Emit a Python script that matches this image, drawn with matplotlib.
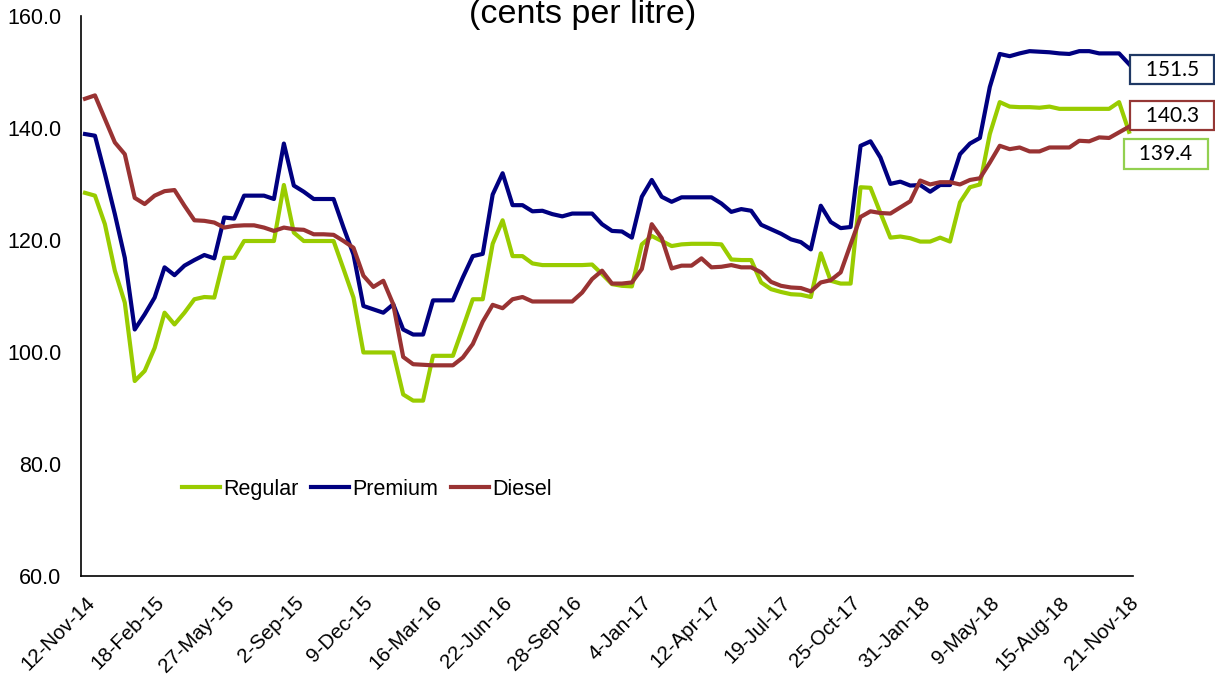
import numpy as np
import pandas as pd
import matplotlib
matplotlib.use('Agg')
import matplotlib.pyplot as plt

# ----------------------------------------
# data (cents per litre, every two weeks)
# ----------------------------------------
dates = pd.date_range('2014-11-12', periods=106, freq='14D')

regular = [128.5, 128.0, 122.9, 114.6, 108.9, 94.9, 96.7, 100.8, 107.1, 105.0,
           107.1, 109.5, 109.9, 109.8, 116.9, 116.9, 119.9, 119.9, 119.9, 119.9,
           129.9, 121.4, 119.9, 119.9, 119.9, 119.9, 114.9, 109.8, 100.0, 100.0,
           100.0, 100.0, 92.5, 91.4, 91.4, 99.4, 99.4, 99.4, 104.4, 109.5,
           109.5, 119.4, 123.6, 117.2, 117.2, 115.9, 115.6, 115.6, 115.6, 115.6,
           115.6, 115.7, 114.0, 112.2, 111.9, 111.8, 119.3, 120.8, 119.9, 119.0,
           119.3, 119.4, 119.4, 119.4, 119.3, 116.6, 116.5, 116.5, 112.5, 111.3,
           110.8, 110.4, 110.3, 109.9, 117.7, 112.8, 112.3, 112.3, 129.5, 129.4,
           124.9, 120.5, 120.7, 120.4, 119.8, 119.8, 120.5, 119.8, 126.8, 129.5,
           130.0, 139.0, 144.7, 143.9, 143.8, 143.8, 143.7, 143.9, 143.5, 143.5,
           143.5, 143.5, 143.5, 143.5, 144.7, 139.4]

premium = [139.0, 138.7, 131.9, 124.7, 116.9, 104.1, 106.8, 109.8, 115.2, 113.8,
           115.5, 116.5, 117.4, 116.8, 124.1, 123.9, 128.0, 128.0, 128.0, 127.4,
           137.3, 129.8, 128.7, 127.4, 127.4, 127.4, 122.3, 117.5, 108.3, 107.7,
           107.1, 108.6, 104.1, 103.2, 103.2, 109.3, 109.3, 109.3, 113.4, 117.2,
           117.6, 128.2, 132.0, 126.3, 126.3, 125.2, 125.3, 124.7, 124.3, 124.8,
           124.8, 124.8, 122.9, 121.7, 121.6, 120.5, 127.8, 130.8, 127.8, 126.9,
           127.7, 127.7, 127.7, 127.7, 126.6, 125.1, 125.6, 125.3, 122.8, 122.0,
           121.2, 120.2, 119.7, 118.4, 126.2, 123.3, 122.2, 122.4, 136.9, 137.7,
           134.8, 130.1, 130.5, 129.8, 129.9, 128.7, 129.9, 129.9, 135.4, 137.3,
           138.3, 147.4, 153.3, 152.9, 153.4, 153.8, 153.7, 153.6, 153.4, 153.3,
           153.8, 153.8, 153.4, 153.4, 153.4, 151.5]

diesel = [145.3, 145.9, 141.7, 137.5, 135.4, 127.6, 126.5, 128.0, 128.8, 129.0,
          126.2, 123.6, 123.5, 123.2, 122.3, 122.6, 122.7, 122.7, 122.3, 121.7,
          122.3, 122.0, 121.9, 121.1, 121.1, 121.0, 119.9, 118.7, 113.7, 111.7,
          112.8, 108.6, 99.2, 97.9, 97.8, 97.7, 97.7, 97.7, 99.1, 101.5,
          105.5, 108.5, 107.9, 109.5, 109.9, 109.1, 109.1, 109.1, 109.1, 109.1,
          110.7, 113.1, 114.6, 112.3, 112.3, 112.5, 114.9, 122.9, 120.4, 115.0,
          115.5, 115.5, 116.8, 115.2, 115.3, 115.6, 115.2, 115.2, 114.3, 112.6,
          111.9, 111.6, 111.5, 110.9, 112.5, 112.9, 114.3, 119.3, 124.2, 125.2,
          124.9, 124.8, 125.9, 127.0, 130.7, 130.0, 130.4, 130.4, 130.0, 130.8,
          131.1, 133.9, 136.9, 136.3, 136.6, 135.9, 135.9, 136.6, 136.6, 136.6,
          137.8, 137.7, 138.4, 138.3, 139.3, 140.3]

tick_labels = ['12-Nov-14', '18-Feb-15', '27-May-15', '2-Sep-15', '9-Dec-15',
               '16-Mar-16', '22-Jun-16', '28-Sep-16', '4-Jan-17', '12-Apr-17',
               '19-Jul-17', '25-Oct-17', '31-Jan-18', '9-May-18', '15-Aug-18',
               '21-Nov-18']
y_ticks = [60, 80, 100, 120, 140, 160]

# ----------------------------------------
# draw
# ----------------------------------------
plt.rcParams['font.family'] = ['Liberation Sans', 'DejaVu Sans']

fig = plt.figure(figsize=(12.15, 6.79), dpi=100)
ax = fig.add_axes([0.0667, 0.151, 0.8658, 0.8248])

series = [('Regular', regular, '#99CC00'),
          ('Premium', premium, '#000080'),
          ('Diesel', diesel, '#993333')]
for name, vals, col in series:
    ax.plot(dates, vals, color=col, lw=3, label=name, solid_joinstyle='round')

margin = pd.Timedelta(days=5.6)
ax.set_xlim(dates[0] - margin, dates[-1] + margin)
ax.set_ylim(60, 160)
ax.set_xticks(dates[::7])
ax.set_xticklabels(tick_labels, rotation=45, ha='right', rotation_mode='anchor')
ax.set_yticks(y_ticks)
ax.set_yticklabels(['%.1f' % v for v in y_ticks])
ax.tick_params(axis='both', length=0)
ax.tick_params(axis='y', pad=14, labelsize=15.5)
ax.tick_params(axis='x', pad=12, labelsize=14.8)

for s in ['top', 'right']:
    ax.spines[s].set_visible(False)
for s in ['left', 'bottom']:
    ax.spines[s].set_linewidth(1.2)
    ax.spines[s].set_color('black')

ax.legend(loc='center left', bbox_to_anchor=(0.096, 0.156), ncol=3,
          frameon=False, fontsize=15.5, handlelength=1.75,
          handletextpad=0.15, columnspacing=0.6, borderpad=0,
          borderaxespad=0)

# end-of-line value boxes
boxes = [(premium, '#1F3864', (31, -4)),
         (diesel, '#953735', (31, 8)),
         (regular, '#92D050', (26.5, -16))]
for vals, edge, off in boxes:
    ax.annotate('  %.1f  ' % vals[-1], xy=(dates[-1], vals[-1]),
                xytext=off, textcoords='offset points',
                ha='center', va='center', fontsize=15, family='Lato',
                annotation_clip=False,
                bbox=dict(boxstyle='square,pad=0.22', fc='white',
                          ec=edge, lw=1.6))

fig.text(0.4798, 0.9666, '(cents per litre)', ha='center', va='baseline',
         fontsize=24.5)

fig.savefig('out.png', dpi=100)
